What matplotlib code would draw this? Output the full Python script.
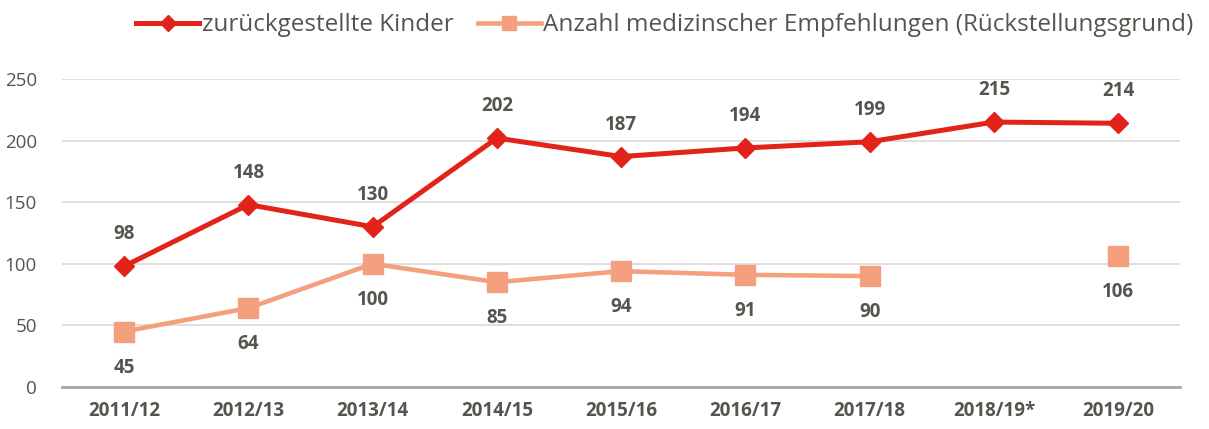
import numpy as np
import matplotlib.pyplot as plt

# school years and values
years = ['2011/12', '2012/13', '2013/14', '2014/15', '2015/16',
         '2016/17', '2017/18', '2018/19*', '2019/20']
kinder = [98, 148, 130, 202, 187, 194, 199, 215, 214]
empfehlungen = [45, 64, 100, 85, 94, 91, 90, np.nan, 106]

red = '#E2231A'
salmon = '#F4A07E'
txt = '#55554F'

plt.rcParams['font.family'] = ['Open Sans', 'DejaVu Sans']

fig = plt.figure(figsize=(12.09, 4.29), dpi=100)
ax = fig.add_axes([0.0513, 0.098, 0.925, 0.718])

x = np.arange(len(years))
ax.plot(x, kinder, color=red, lw=3.6, marker='D', ms=10.5, label='zurückgestellte Kinder', zorder=3)
ax.plot(x, empfehlungen, color=salmon, lw=3.3, marker='s', ms=14,
        label='Anzahl medizinscher Empfehlungen (Rückstellungsgrund)', zorder=3)

for xi, v in zip(x, kinder):
    ax.annotate(str(v), (xi, v), xytext=(0, 23), textcoords='offset points',
                ha='center', va='center', fontsize=13.5, fontweight='bold', color=txt)
for xi, v in zip(x, empfehlungen):
    if np.isnan(v):
        continue
    ax.annotate(str(int(v)), (xi, v), xytext=(0, -26), textcoords='offset points',
                ha='center', va='center', fontsize=13.5, fontweight='bold', color=txt)

ax.set_xlim(-0.5, len(years) - 0.5)
ax.set_ylim(0, 250)
ax.set_yticks([0, 50, 100, 150, 200, 250])
ax.set_xticks(x)
ax.set_xticklabels(years, fontweight='bold')
ax.tick_params(axis='both', length=0, labelsize=13.5, colors=txt)
ax.tick_params(axis='x', pad=10)
ax.tick_params(axis='y', pad=18)
ax.grid(axis='y', color='#D9D9D9', lw=1.2)
ax.set_axisbelow(True)
for s in ['left', 'right', 'top']:
    ax.spines[s].set_visible(False)
ax.spines['bottom'].set_color('#A6A6A6')
ax.spines['bottom'].set_linewidth(2)

leg = ax.legend(loc='center', bbox_to_anchor=(0.539, 1.175), ncol=2, frameon=False,
                fontsize=17.5, handlelength=2.6, columnspacing=1.0, handletextpad=0.1,
                borderaxespad=0, borderpad=0, markerscale=0.75)
for t in leg.get_texts():
    t.set_color(txt)

fig.savefig('out.png', dpi=100)
